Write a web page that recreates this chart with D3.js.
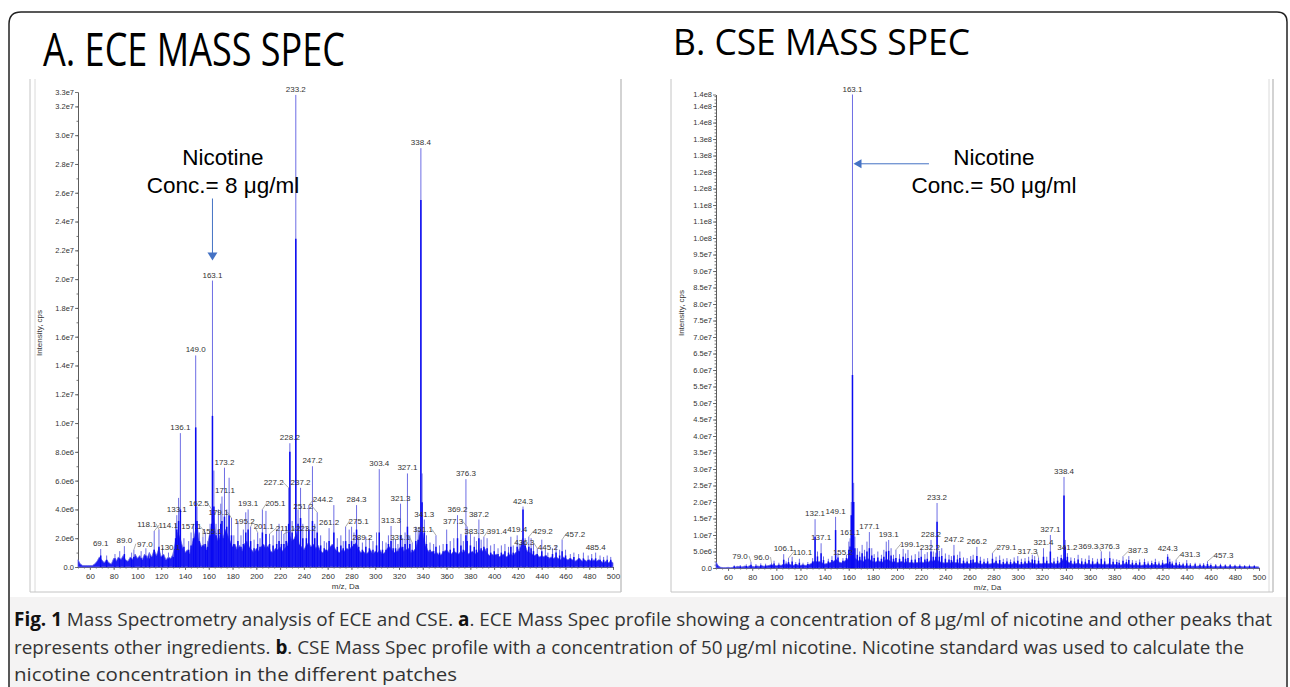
<!DOCTYPE html>
<html><head><meta charset="utf-8">
<script src="https://cdn.jsdelivr.net/npm/d3@7"></script>
<style>html,body{margin:0;padding:0;background:#fff;} svg{display:block;}</style>
</head><body>
<svg id="c" width="1290" height="687"></svg>
<script>
// ---------------- DATA ----------------
const xTickValues = [60,80,100,120,140,160,180,200,220,240,260,280,300,320,340,360,380,400,420,440,460,480,500];
const eceYTickValues = [0,2e6,4e6,6e6,8e6,1e7,1.2e7,1.4e7,1.6e7,1.8e7,2e7,2.2e7,2.4e7,2.6e7,2.8e7,3e7,3.2e7,3.3e7];
const cseYTickValues = [0,5e6,1e7,1.5e7,2e7,2.5e7,3e7,3.5e7,4e7,4.5e7,5e7,5.5e7,6e7,6.5e7,7e7,7.5e7,8e7,8.5e7,9e7,9.5e7,1e8,1.05e8,1.1e8,1.15e8,1.2e8,1.25e8,1.3e8,1.35e8,1.4e8,1.435e8];
const mzDomain = [50, 500];
const eceMax = 3.3e7;
const cseMax = 1.435e8;

// peaks: [m/z, apex intensity (1e6 cps), dense core intensity (1e6 cps)]
const ecePeaks = [
[69.1,1.25,0.8],[74.1,0.8,0.5],[81.1,0.9,0.6],[85.1,1.1,0.6],[89.0,1.45,0.9],[95.1,1.0,0.6],[97.0,1.2,0.7],
[103.1,1.1,0.6],[107.1,1.3,0.8],[110.1,1.0,0.6],[114.1,2.5,1.2],[118.1,2.6,1.4],[121.1,1.3,0.8],[126.1,1.0,0.6],
[130.1,1.0,0.7],[132.1,3.0,2.0],[133.1,3.6,2.6],[134.6,4.8,3.2],[136.1,9.3,4.0],[139.1,2.0,1.4],[143.1,1.8,1.2],
[145.1,2.4,1.5],[147.1,3.0,2.0],[149.0,14.7,9.7],[150.1,4.2,3.2],[152.1,2.4,1.8],[155.1,2.1,1.5],[157.1,2.4,1.6],
[159.1,1.8,1.4],[161.1,3.0,2.2],[162.5,4.0,3.0],[163.1,19.9,10.5],[164.3,6.7,4.2],[166.1,3.0,2.2],[168.1,4.0,2.6],
[170.1,4.4,3.0],[171.1,4.9,3.2],[173.2,6.9,3.5],[175.1,4.0,2.8],[177.1,6.2,3.6],[179.1,3.4,2.2],[181.1,2.2,1.6],
[184.5,3.2,1.8],[187.1,2.2,1.4],[189.1,2.6,1.6],[191.1,3.8,2.4],[193.1,4.0,2.6],[195.2,2.8,1.8],[198.1,1.9,1.3],
[201.1,2.4,1.6],[203.1,2.0,1.4],[205.1,4.0,2.4],[208.1,3.9,2.3],[211.1,2.3,1.6],[214.1,2.2,1.5],[217.1,2.6,1.6],
[219.1,3.0,1.8],[221.1,2.5,1.6],[223.2,2.3,1.6],[225.1,2.8,1.8],[227.2,5.5,3.0],[228.2,8.6,8.0],[230.1,3.2,2.4],
[233.2,32.8,22.8],[235.1,4.0,3.0],[237.2,5.5,3.4],[239.1,3.0,2.0],[242.1,2.8,2.0],[244.2,4.3,2.6],[247.2,7.0,3.2],
[249.1,3.0,2.0],[251.2,3.8,2.4],[254.1,2.2,1.5],[257.1,1.8,1.3],[259.1,1.7,1.2],[261.2,2.7,1.8],[265.2,4.3,2.4],
[268.1,2.0,1.4],[271.1,2.2,1.5],[273.1,1.8,1.3],[275.1,2.8,1.8],[278.1,2.6,1.6],[280.1,2.8,1.8],[282.1,2.4,1.6],
[284.3,4.3,2.6],[286.1,2.0,1.4],[289.2,1.7,1.2],[292.1,2.1,1.4],[295.1,2.0,1.3],[298.1,1.8,1.2],[301.1,2.4,1.5],
[303.4,6.8,2.4],[306.1,1.8,1.2],[309.1,1.7,1.2],[311.1,2.2,1.6],[313.3,2.85,1.8],[315.1,1.9,1.3],[317.1,1.9,1.3],
[319.1,1.6,1.1],[321.3,4.4,2.2],[323.1,2.0,1.4],[325.1,2.4,1.6],[327.1,6.5,2.8],[329.1,2.2,1.6],[331.1,1.7,1.2],
[334.1,2.8,1.8],[336.1,2.6,1.9],[338.4,29.1,25.5],[339.4,6.5,4.5],[341.3,3.3,2.4],[343.1,2.2,1.6],[346.1,1.7,1.2],
[349.1,1.6,1.1],[351.1,2.2,1.4],[354.1,1.5,1.0],[357.1,1.6,1.1],[360.1,2.6,1.6],[363.1,1.8,1.2],[366.1,2.0,1.3],
[369.2,3.6,2.0],[372.1,2.3,1.5],[374.1,1.8,1.2],[376.3,6.1,2.2],[377.3,2.8,1.8],[380.1,2.3,1.5],[383.3,2.1,1.4],
[385.1,1.8,1.2],[387.2,3.3,2.0],[389.1,1.9,1.3],[391.4,2.1,1.4],[394.1,2.0,1.3],[397.1,1.5,1.0],[400.1,1.6,1.1],
[403.3,1.3,0.9],[406.1,1.5,1.0],[409.1,1.6,1.1],[412.1,1.4,1.0],[414.1,2.1,1.4],[416.1,1.5,1.0],[419.4,2.2,1.4],
[421.1,1.6,1.1],[424.3,4.2,4.0],[426.1,2.0,1.5],[429.2,2.1,1.4],[431.1,2.0,1.3],[433.1,1.6,1.1],[436.3,1.3,0.9],
[440.1,1.9,1.1],[443.1,1.2,0.8],[445.2,1.0,0.7],[449.1,1.3,0.9],[452.1,1.5,1.0],[455.1,1.2,0.8],[457.2,1.9,1.1],
[460.1,1.2,0.8],[464.1,0.9,0.6],[467.1,1.0,0.7],[471.1,0.9,0.6],[475.1,1.0,0.6],[479.1,0.8,0.5],[482.1,0.9,0.6],
[485.4,1.0,0.6],[489.1,0.8,0.5],[492.1,0.7,0.5],[495.1,0.8,0.5],[498.1,0.7,0.5]
];
const eceLabelMz = [69.1,89.0,97.0,118.1,114.1,130.1,133.1,136.1,149.0,157.1,155.1,162.5,163.1,171.1,173.2,179.1,
193.1,195.2,201.1,211.1,205.1,223.2,227.2,228.2,233.2,237.2,244.2,247.2,251.2,261.2,275.1,284.3,289.2,303.4,313.3,
321.3,327.1,331.1,338.4,341.3,351.1,369.2,376.3,377.3,383.3,387.2,391.4,419.4,424.3,429.2,436.3,445.2,457.2,485.4];
// baseline "grass" intensity (1e5 cps) sampled every 2 m/z from 50 to 500
const eceGrass = [5,2,1,1,1,1,1,2,4,7,5,3,5,3,2,6,4,7,5,8,5,4,7,5,9,6,8,5,9,6,10,7,12,8,13,7,9,5,7,6,
9,18,24,20,14,10,12,9,16,22,30,18,14,16,12,20,28,34,22,18,24,20,26,22,18,14,16,12,15,11,16,18,14,12,10,13,11,14,16,13,
15,11,10,13,12,14,11,13,15,22,18,20,24,16,14,12,15,17,14,16,13,15,11,10,12,11,14,16,13,11,10,12,11,13,12,14,15,17,12,10,
11,9,10,12,9,11,10,12,9,10,13,14,12,10,11,13,14,11,12,13,10,11,13,18,28,24,16,12,10,11,9,10,8,9,11,12,10,9,11,10,
9,11,10,12,9,10,11,9,10,12,11,13,10,8,9,8,9,7,8,9,7,8,9,8,10,11,14,20,15,11,10,9,8,9,7,8,7,8,6,7,
6,7,6,5,7,6,5,6,5,4,5,6,4,5,4,5,4,5,4,5,4,3,4,3,4,3];

const csePeaks = [
[65.1,0.8,0.5],[70.1,0.9,0.5],[75.1,1.1,0.6],[79.0,1.8,1.0],[83.1,1.2,0.7],[87.1,1.4,0.8],[91.1,1.3,0.8],[96.0,1.5,1.0],
[98.1,2.2,1.4],[102.1,1.6,1.0],[106.1,4.2,2.5],[108.1,2.0,1.4],[110.1,3.0,1.8],[113.1,3.4,2.0],[116.1,1.8,1.2],[119.1,2.8,1.6],
[122.1,1.6,1.0],[126.1,1.8,1.2],[130.1,3.0,2.0],[132.1,14.8,9.5],[134.1,5.0,3.5],[137.1,7.5,4.5],[139.1,3.5,2.4],[143.1,2.8,2.0],
[146.1,3.6,2.4],[149.1,15.5,11.5],[151.1,4.5,3.2],[155.2,3.0,2.2],[158.1,4.0,3.0],[160.1,8.0,5.5],[161.1,9.0,6.5],[162.1,20.0,16.0],
[163.1,143.5,58.5],[164.1,25.8,20.0],[165.1,9.5,6.0],[167.1,6.0,4.0],[169.1,5.0,3.4],[171.1,7.0,4.5],[173.1,5.5,3.5],[175.1,8.0,5.0],
[177.1,10.9,6.0],[179.1,6.0,3.8],[181.1,4.2,3.0],[184.1,5.0,3.2],[187.1,4.0,2.8],[189.1,5.5,3.4],[191.1,8.0,5.0],[193.1,8.5,5.2],
[195.1,6.0,3.8],[197.1,4.0,2.8],[199.1,5.5,3.0],[202.1,4.2,2.8],[205.1,5.8,3.4],[207.1,4.4,2.8],[209.1,5.5,3.0],[212.1,3.8,2.5],
[215.1,4.2,2.6],[218.1,5.0,3.0],[220.1,5.8,3.4],[223.1,4.2,2.6],[225.1,4.8,2.8],[228.2,8.5,5.0],[230.1,5.0,3.4],[232.2,4.5,3.4],
[233.2,19.7,14.0],[235.1,5.2,3.4],[237.1,6.0,3.6],[240.1,4.4,2.8],[243.1,4.0,2.6],[245.1,3.6,2.4],[247.2,7.0,3.8],[250.1,4.0,2.6],
[252.1,5.0,3.0],[255.1,3.2,2.2],[258.1,3.0,2.0],[261.1,3.6,2.4],[263.1,4.0,2.6],[266.2,6.4,3.6],[269.1,3.4,2.2],[272.1,2.8,1.9],
[275.1,3.0,2.0],[279.1,4.5,2.8],[282.1,3.4,2.2],[285.1,3.8,2.4],[288.1,2.8,1.8],[291.1,3.0,2.0],[294.1,2.6,1.8],[297.1,3.2,2.0],
[300.1,3.6,2.2],[303.1,2.8,1.8],[306.1,3.0,2.0],[309.1,3.4,2.2],[312.1,4.0,2.6],[314.1,3.6,2.4],[317.3,3.2,2.2],[321.4,6.0,3.4],
[324.1,3.4,2.2],[327.1,10.0,5.0],[330.1,3.0,2.0],[333.1,3.4,2.2],[336.1,4.0,3.0],[338.4,27.6,22.0],[339.4,8.5,6.5],[341.2,4.5,3.4],
[344.1,3.2,2.2],[347.1,3.0,2.0],[350.1,4.0,2.6],[353.1,3.0,2.0],[356.1,2.8,1.9],[359.1,3.8,2.4],[362.1,3.0,2.0],[366.1,2.8,1.9],
[369.3,5.0,2.8],[372.1,3.0,2.0],[376.3,5.0,3.0],[379.1,2.8,1.9],[382.1,2.6,1.8],[384.1,2.4,1.6],[387.3,3.5,2.2],[390.1,2.6,1.8],
[392.1,3.6,2.4],[395.1,2.4,1.6],[398.1,2.2,1.5],[401.1,2.6,1.7],[405.1,2.8,1.8],[408.1,2.0,1.4],[411.1,2.2,1.5],[414.1,2.8,1.8],
[417.1,2.0,1.4],[420.1,2.4,1.6],[424.3,4.2,3.4],[426.1,2.8,1.9],[428.1,2.0,1.4],[431.3,2.5,1.6],[434.1,1.8,1.2],[437.1,1.6,1.1],
[440.1,2.4,1.4],[443.1,1.5,1.0],[447.1,1.6,1.1],[451.1,1.4,1.0],[454.1,1.5,1.0],[457.3,2.0,1.2],[460.1,1.4,0.9],[464.1,1.2,0.8],
[468.1,1.3,0.9],[472.1,1.1,0.8],[476.1,1.2,0.8],[480.1,1.0,0.7],[484.1,1.1,0.7],[488.1,0.9,0.6],[492.1,1.0,0.6],[496.1,0.9,0.6]
];
const cseLabelMz = [79.0,96.0,106.1,110.1,132.1,137.1,149.1,155.2,161.1,163.1,177.1,193.1,199.1,228.2,232.2,233.2,247.2,
266.2,279.1,317.3,321.4,327.1,338.4,341.2,369.3,376.3,387.3,424.3,431.3,457.3];
const cseGrass = [18,6,2,1,1,2,1,2,3,5,3,4,6,4,7,5,4,6,5,7,5,6,8,10,8,7,9,8,12,9,14,10,8,11,9,8,10,8,9,12,
16,22,18,20,16,12,14,16,18,22,26,18,16,20,24,30,40,34,28,22,24,20,26,28,24,20,18,22,20,18,24,26,22,18,20,16,18,20,17,19,
16,18,15,17,16,18,17,19,18,24,20,26,22,18,16,15,17,15,18,16,17,14,13,15,14,13,15,16,18,14,12,13,14,12,13,15,16,13,12,11,
13,12,11,13,15,12,11,12,13,14,16,15,13,12,14,13,15,14,13,16,12,13,14,18,30,24,18,14,12,13,15,12,11,12,13,12,11,12,13,12,
11,12,11,13,10,11,10,9,10,12,13,11,10,9,10,9,8,9,10,8,9,10,11,9,8,10,12,14,11,9,8,9,7,8,6,7,6,5,6,5,
6,5,6,5,6,5,4,5,4,5,4,5,4,5,4,5,4,5,4,3,4,3,4,3,4,3];

const captionLines = [
  [["Fig. 1",true],[" Mass Spectrometry analysis of ECE and CSE. ",false],["a",true],[". ECE Mass Spec profile showing a concentration of 8\u2009\u00b5g/ml of nicotine and other peaks that",false]],
  [["represents other ingredients. ",false],["b",true],[". CSE Mass Spec profile with a concentration of 50\u2009\u00b5g/ml nicotine. Nicotine standard was used to calculate the",false]],
  [["nicotine concentration in the different patches",false]]
];

// ---------------- LAYOUT / STYLE ----------------
const eceLabelShift = {"97.0":11,"118.1":-12,"114.1":14,"130.1":-3,"157.1":-14,"155.1":9,"162.5":-13,"171.1":3,"179.1":-13,
 "195.2":-6,"201.1":6,"211.1":16,"205.1":13,"227.2":-15,"223.2":22,"251.2":-14,"244.2":14,"275.1":13,"331.1":-12,"351.1":-13,
 "377.3":-14,"391.4":13,"429.2":14,"436.3":-13,"457.2":13};
const cseLabelShift = {"79.0":-11,"96.0":-10,"110.1":14,"199.1":14,"232.2":-6,"279.1":14,"317.3":-11,"369.3":-13,"387.3":15,"431.3":14,"457.3":16};

const svg = d3.select("#c");
const LIGHT = "#6d6de4", DARK = "#0a0af2";

// caption background + outer frame
svg.append("rect").attr("x",10).attr("y",597).attr("width",1276).attr("height",90).attr("fill","#f4f3f3");
svg.append("path").attr("d","M9,687 L9,24 Q9,12 21,12 L1277,12 Q1287,12 1287,22 L1287,687")
  .attr("fill","none").attr("stroke","#222").attr("stroke-width",1.5);

// panel frames
function frame(x0,x1,doubleLeft,doubleRight){
  const g = svg.append("g").attr("stroke","#c4c4c4").attr("fill","none");
  g.append("line").attr("x1",x0).attr("x2",x0).attr("y1",79).attr("y2",592);
  if(doubleLeft) g.append("line").attr("x1",x0+5).attr("x2",x0+5).attr("y1",79).attr("y2",592).attr("stroke","#dadada");
  g.append("line").attr("x1",x1).attr("x2",x1).attr("y1",79).attr("y2",592).attr("stroke-width",1.5);
  if(doubleRight) g.append("line").attr("x1",x1-4).attr("x2",x1-4).attr("y1",79).attr("y2",592).attr("stroke","#dadada");
  g.append("line").attr("x1",x0).attr("x2",x1).attr("y1",592).attr("y2",592);
}
frame(30,621,true,false);
frame(671,1273,false,true);

// titles
svg.append("text").attr("x",43).attr("y",66).attr("font-family","'Open Sans', Lato, sans-serif").attr("font-weight",400)
  .attr("font-size",45).attr("textLength",302).attr("lengthAdjust","spacingAndGlyphs").attr("fill","#000").text("A. ECE MASS SPEC");
svg.append("text").attr("x",673).attr("y",55).attr("font-family","'Open Sans', Lato, sans-serif").attr("font-weight",400)
  .attr("font-size",37).attr("textLength",297).attr("lengthAdjust","spacingAndGlyphs").attr("fill","#000").text("B. CSE MASS SPEC");

function sci(v){ return v===0 ? "0.0" : v.toExponential(1).replace("e+","e"); }

function drawPanel(cfg){
  const x = d3.scaleLinear(mzDomain, cfg.xr);
  const y = d3.scaleLinear([0, cfg.ymax], cfg.yr);
  const g = svg.append("g");

  // axes
  const ax = g.append("g").attr("transform",`translate(0,${cfg.yr[0]})`)
    .call(d3.axisBottom(x).tickValues(xTickValues).tickFormat(d3.format("d")).tickSize(3).tickSizeOuter(0));
  const axm = g.append("g").attr("transform",`translate(0,${cfg.yr[0]})`)
    .call(d3.axisBottom(x).tickValues(d3.range(50,501,5)).tickFormat("").tickSize(1.5).tickSizeOuter(0));
  const ay = g.append("g").attr("transform",`translate(${cfg.xr[0]},0)`)
    .call(d3.axisLeft(y).tickValues(cfg.yticks).tickFormat(sci).tickSize(3).tickSizeOuter(0));
  const aym = g.append("g").attr("transform",`translate(${cfg.xr[0]},0)`)
    .call(d3.axisLeft(y).tickValues(d3.range(0,cfg.ymax,1e6)).tickFormat("").tickSize(1.5).tickSizeOuter(0));
  [ax,axm,ay,aym].forEach(a=>{
    a.selectAll("path,line").attr("stroke","#555").attr("stroke-width",0.8);
    a.selectAll("text").attr("fill","#333").attr("font-family","'Liberation Sans', Arial, sans-serif").attr("font-size",7.5);
  });
  ay.selectAll("text").attr("x",-4);
  ax.selectAll("text").attr("y",6).attr("font-size",8);

  // axis titles
  g.append("text").attr("x",(cfg.xr[0]+cfg.xr[1])/2).attr("y",cfg.yr[0]+22).attr("text-anchor","middle")
    .attr("font-family","'Liberation Sans', Arial, sans-serif").attr("font-size",8).attr("fill","#333").text("m/z, Da");
  g.append("text").attr("transform",`translate(${cfg.ylabX},${cfg.ylabY}) rotate(-90)`).attr("text-anchor","middle")
    .attr("font-family","'Liberation Sans', Arial, sans-serif").attr("font-size",8).attr("fill","#333").text("Intensity, cps");

  // grass
  const gr = cfg.grass.map((v,i)=>[mzDomain[0]+2*i, v*1e5]);
  g.append("path").datum(gr).attr("fill",DARK).attr("fill-opacity",0.92)
    .attr("stroke",LIGHT).attr("stroke-width",0.8)
    .attr("d", d3.area().x(d=>x(d[0])).y0(y(0)).y1(d=>y(d[1])));

  // peaks: light full stick + dark core
  g.append("g").selectAll("line").data(cfg.peaks).join("line")
    .attr("x1",d=>x(d[0])).attr("x2",d=>x(d[0])).attr("y1",y(0)).attr("y2",d=>y(d[1]*1e6))
    .attr("stroke",LIGHT).attr("stroke-width",1);
  g.append("g").selectAll("line").data(cfg.peaks).join("line")
    .attr("x1",d=>x(d[0])).attr("x2",d=>x(d[0])).attr("y1",y(0)).attr("y2",d=>y(d[2]*1e6))
    .attr("stroke",DARK).attr("stroke-width",1.5);

  // peak labels
  const lab = g.append("g").attr("font-family","'Liberation Sans', Arial, sans-serif").attr("font-size",8).attr("fill","#333");
  cfg.labels.forEach(m=>{
    const p = cfg.peaks.find(q=>Math.abs(q[0]-m)<0.05);
    if(!p) return;
    const t = m.toFixed(1);
    const dx = cfg.shift[t]||0;
    const px = x(m), py = y(p[1]*1e6);
    const lx = px+dx, ly = py-3;
    lab.append("text").attr("x",lx).attr("y",ly).attr("text-anchor","middle").text(t);
    if(Math.abs(dx)>5){
      const ex = dx>0 ? lx-9 : lx+9;
      lab.append("path").attr("d",`M${ex},${ly-3} L${px},${py}`).attr("fill","none").attr("stroke","#777").attr("stroke-width",0.6);
    }
  });
  return {x,y};
}

const A = drawPanel({xr:[78,613], yr:[567,92], ymax:eceMax, yticks:eceYTickValues, peaks:ecePeaks, labels:eceLabelMz,
  grass:eceGrass, shift:eceLabelShift, ylabX:42, ylabY:333});
const B = drawPanel({xr:[716,1259], yr:[568,94.5], ymax:cseMax, yticks:cseYTickValues, peaks:csePeaks, labels:cseLabelMz,
  grass:cseGrass, shift:cseLabelShift, ylabX:684, ylabY:313});

// annotations
const ARROW = "#4472c4";
function annot(cx, lines){
  const t = svg.append("g").attr("font-family","'Liberation Sans', Arial, sans-serif").attr("font-size",22.5).attr("fill","#000").attr("text-anchor","middle");
  t.append("text").attr("x",cx).attr("y",165).text(lines[0]);
  t.append("text").attr("x",cx).attr("y",193).text(lines[1]);
}
annot(223, ["Nicotine","Conc.= 8 \u03bcg/ml"]);
annot(994, ["Nicotine","Conc.= 50 \u03bcg/ml"]);

// arrow A (vertical, pointing down to 163.1)
{
  const ax = A.x(163.1), y0 = A.y(2.56e7), y1 = A.y(2.13e7);
  svg.append("line").attr("x1",ax).attr("x2",ax).attr("y1",y0).attr("y2",y1-7).attr("stroke",ARROW).attr("stroke-width",1);
  svg.append("path").attr("d",`M${ax-5},${y1-8} L${ax+5},${y1-8} L${ax},${y1} Z`).attr("fill",ARROW);
}
// arrow B (horizontal, pointing left to 163.1)
{
  const ay = B.y(1.225e8), x0 = B.x(226.5), x1 = B.x(163.1)+1;
  svg.append("line").attr("x1",x0).attr("x2",x1+7).attr("y1",ay).attr("y2",ay).attr("stroke",ARROW).attr("stroke-width",1);
  svg.append("path").attr("d",`M${x1+8},${ay-4.5} L${x1+8},${ay+4.5} L${x1},${ay} Z`).attr("fill",ARROW);
}

// caption
const capLen = [1258, 1230, 443];
const capY = [626, 654, 681];
captionLines.forEach((line,i)=>{
  const t = svg.append("text").attr("x",14).attr("y",capY[i]).attr("font-family","'Open Sans', sans-serif")
    .attr("font-size",19).attr("fill","#333").attr("textLength",capLen[i]).attr("lengthAdjust","spacingAndGlyphs");
  line.forEach(([s,b])=>{ t.append("tspan").attr("font-weight",b?"700":"400").attr("fill",b?"#111":"#333").text(s); });
});
</script></body></html>
